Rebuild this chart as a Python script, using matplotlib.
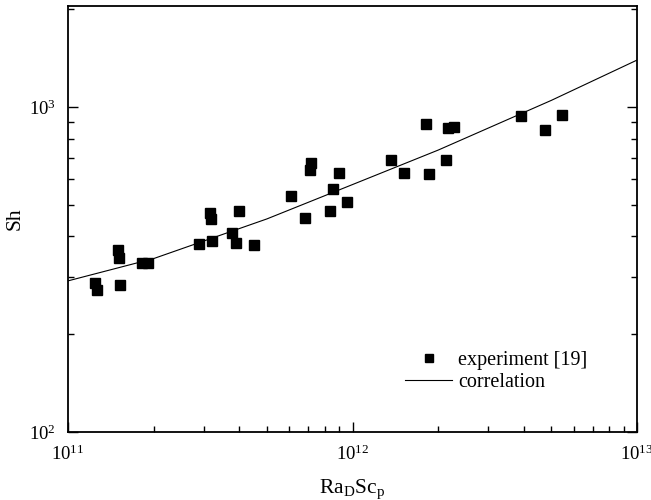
import matplotlib
matplotlib.use("Agg")
import matplotlib.pyplot as plt
from matplotlib.ticker import LogLocator, LogFormatterMathtext, NullFormatter

plt.rcParams['font.family'] = ['Liberation Serif', 'DejaVu Serif']
plt.rcParams['mathtext.fontset'] = 'custom'
plt.rcParams['mathtext.rm'] = 'Liberation Serif'
plt.rcParams['mathtext.it'] = 'Liberation Serif:italic'

# experimental data (Ra_D Sc_p, Sh)
exp_x = [1.245e11, 1.26e11, 1.50e11, 1.51e11, 1.52e11, 1.82e11, 1.91e11,
         2.89e11, 3.16e11, 3.19e11, 3.21e11, 3.77e11, 3.89e11, 4.0e11, 4.51e11,
         6.08e11, 6.81e11, 7.14e11, 7.09e11, 8.53e11, 8.34e11, 8.97e11, 9.57e11,
         1.365e12, 1.52e12, 1.86e12, 1.81e12, 2.13e12, 2.17e12, 2.28e12,
         3.91e12, 4.75e12, 5.45e12]
exp_y = [287, 273, 363, 343, 283, 331, 331,
         379, 472, 452, 387, 409, 382, 479, 376,
         532, 455, 673, 640, 560, 479, 626, 510,
         687, 626, 622, 887, 687, 861, 867,
         938, 850, 944]

# correlation curve
corr_x = [1e11, 2e11, 5e11, 1e12, 2e12, 5e12, 1e13]
corr_y = [292, 342, 453, 578, 738, 1050, 1397]

fig = plt.figure(figsize=(6.51, 5.0), dpi=100)
ax = fig.add_axes([0.1045, 0.136, 0.874, 0.852])

ax.plot(exp_x, exp_y, linestyle='none', marker='s', markersize=7.5,
        color='black', label='experiment [19]')
ax.plot(corr_x, corr_y, color='black', linewidth=0.8, label='correlation')

ax.set_xscale('log')
ax.set_yscale('log')
ax.set_xlim(1e11, 1e13)
ax.set_ylim(100, 2050)

ax.xaxis.set_major_locator(LogLocator(base=10, numticks=10))
ax.yaxis.set_major_locator(LogLocator(base=10, numticks=10))
ax.xaxis.set_major_formatter(LogFormatterMathtext())
ax.yaxis.set_major_formatter(LogFormatterMathtext())
ax.xaxis.set_minor_formatter(NullFormatter())
ax.yaxis.set_minor_formatter(NullFormatter())

ax.tick_params(which='both', direction='in', top=False, right=True,
               labelsize=13.5, width=1.0)
ax.tick_params(which='major', length=7)
ax.tick_params(which='minor', length=4)
ax.tick_params(axis='x', which='major', pad=9)
ax.tick_params(axis='y', which='major', pad=9)
for s in ax.spines.values():
    s.set_linewidth(1.3)

ax.set_xlabel(r'Ra$_\mathrm{D}$Sc$_\mathrm{p}$', fontsize=15.5, labelpad=10)
ax.set_ylabel('Sh', fontsize=15.5, labelpad=3)

leg = ax.legend(loc='lower right', bbox_to_anchor=(0.927, 0.074), frameon=False,
                fontsize=14.5, handlelength=2.33, handletextpad=0.3,
                labelspacing=0.15, borderaxespad=0, markerscale=0.75)

fig.savefig('out.png', dpi=100)
